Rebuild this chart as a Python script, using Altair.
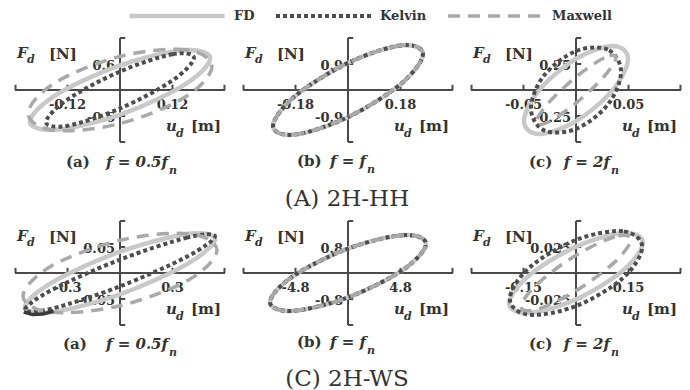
import altair as alt
import pandas as pd

MODELS = ["FD", "Kelvin", "Maxwell"]
LINE_COLORS = ["#c8c8c8", "#4d4d4d", "#a9a9a9"]
LINE_DASHES = [[1, 0], [4, 3], [12, 8]]
LINE_WIDTHS = [4.5, 3.5, 2.5]

# ---------------- (A) 2H-HH ----------------
HH_A_XTICK, HH_A_YTICK = 0.12, 0.6
HH_A_XLABELS = ["-0.12", "0.12"]
HH_A_YLABELS = ["0.6", "-0.6"]
HH_A_FD_U = [0.206, 0.146, 0.0, -0.146, -0.206, -0.146, 0.0, 0.146]
HH_A_FD_F = [0.727, 0.916, 0.568, -0.113, -0.727, -0.916, -0.568, 0.113]
HH_A_KV_U = [0.169, 0.120, 0.0, -0.120, -0.169, -0.120, 0.0, 0.120]
HH_A_KV_F = [0.740, 0.825, 0.427, -0.221, -0.740, -0.825, -0.427, 0.221]
HH_A_MX_U = [0.210, 0.149, 0.0, -0.149, -0.210, -0.149, 0.0, 0.149]
HH_A_MX_F = [0.543, 0.932, 0.775, 0.164, -0.543, -0.932, -0.775, -0.164]

HH_B_XTICK, HH_B_YTICK = 0.18, 0.9
HH_B_XLABELS = ["-0.18", "0.18"]
HH_B_YLABELS = ["0.9", "-0.9"]
HH_B_U = [0.257, 0.182, 0.0, -0.182, -0.257, -0.182, 0.0, 0.182]
HH_B_F = [1.244, 1.543, 0.938, -0.217, -1.244, -1.543, -0.938, 0.217]

HH_C_XTICK, HH_C_YTICK = 0.05, 0.25
HH_C_XLABELS = ["-0.05", "0.05"]
HH_C_YLABELS = ["0.25", "-0.25"]
HH_C_FD_U = [0.0495, 0.035, 0.0, -0.035, -0.0495, -0.035, 0.0, 0.035]
HH_C_FD_F = [0.299, 0.423, 0.299, 0.0, -0.299, -0.423, -0.299, 0.0]
HH_C_KV_U = [0.0429, 0.0303, 0.0, -0.0303, -0.0429, -0.0303, 0.0, 0.0303]
HH_C_KV_F = [0.175, 0.388, 0.374, 0.141, -0.175, -0.388, -0.374, -0.141]
HH_C_MX_U = [0.0381, 0.0269, 0.0, -0.0269, -0.0381, -0.0269, 0.0, 0.0269]
HH_C_MX_F = [0.312, 0.310, 0.126, -0.132, -0.312, -0.310, -0.126, 0.132]

# ---------------- (C) 2H-WS ----------------
WS_A_XTICK, WS_A_YTICK = 0.3, 0.05
WS_A_XLABELS = ["-0.3", "0.3"]
WS_A_YLABELS = ["0.05", "-0.05"]
WS_A_FD_U = [0.543, 0.384, 0.0, -0.384, -0.543, -0.384, 0.0, 0.384]
WS_A_FD_F = [0.0652, 0.0749, 0.0408, -0.0173, -0.0652, -0.0749, -0.0408, 0.0173]
WS_A_KV_U = [0.543, 0.384, 0.0, -0.384, -0.543, -0.384, 0.0, 0.384]
WS_A_KV_F = [0.0705, 0.0680, 0.0257, -0.0317, -0.0705, -0.0680, -0.0257, 0.0317]
WS_A_MX_U = [0.554, 0.392, 0.0, -0.392, -0.554, -0.392, 0.0, 0.392]
WS_A_MX_F = [0.0441, 0.0757, 0.0630, 0.0134, -0.0441, -0.0757, -0.0630, -0.0134]
WS_A_KV_TAIL_U = [-0.55, -0.50, -0.44, -0.38]
WS_A_KV_TAIL_F = [-0.075, -0.080, -0.079, -0.073]

WS_B_XTICK, WS_B_YTICK = 4.8, 0.8
WS_B_XLABELS = ["-4.8", "4.8"]
WS_B_YLABELS = ["0.8", "-0.8"]
WS_B_U = [7.13, 5.04, 0.0, -5.04, -7.13, -5.04, 0.0, 5.04]
WS_B_F = [0.896, 1.165, 0.751, -0.102, -0.896, -1.165, -0.751, 0.102]

WS_C_XTICK, WS_C_YTICK = 0.15, 0.025
WS_C_XLABELS = ["-0.15", "0.15"]
WS_C_YLABELS = ["0.025", "-0.025"]
WS_C_FD_U = [0.191, 0.135, 0.0, -0.135, -0.191, -0.135, 0.0, 0.135]
WS_C_FD_F = [0.0291, 0.0384, 0.0253, -0.0027, -0.0291, -0.0384, -0.0253, 0.0027]
WS_C_KV_U = [0.189, 0.134, 0.0, -0.134, -0.189, -0.134, 0.0, 0.134]
WS_C_KV_F = [0.0249, 0.0401, 0.0318, 0.0049, -0.0249, -0.0401, -0.0318, -0.0049]
WS_C_MX_U = [0.157, 0.111, 0.0, -0.111, -0.157, -0.111, 0.0, 0.111]
WS_C_MX_F = [0.0322, 0.0349, 0.0171, -0.0107, -0.0322, -0.0349, -0.0171, 0.0107]

CAPTIONS = [("(a)", "f = 0.5f", "n"), ("(b)", "f = f", "n"), ("(c)", "f = 2f", "n")]
TITLE_TOP = "(A) 2H-HH"
TITLE_BOTTOM = "(C) 2H-WS"

SERIF = "DejaVu Serif"
TXT = "#333333"
AXC = "#4a4a4a"
DUMMY = pd.DataFrame({"k": [0]})
PW, PH = 210, 104          # size of the axes frame inside each cell
TOP_CELL_H, BOT_CELL_H = 183, 169

LEG = alt.Legend(orient="none", legendX=112, legendY=0, direction="horizontal", title=None,
                 symbolType="stroke", symbolSize=9025, clipHeight=16,
                 labelFont=SERIF, labelFontWeight="bold", labelFontSize=13,
                 labelColor=TXT, labelOffset=7, columnPadding=19)


def txt(s, x, y, size=15, style="normal", weight="bold", align="left"):
    return alt.Chart(DUMMY).mark_text(
        text=s, font=SERIF, fontSize=size, fontStyle=style, fontWeight=weight,
        align=align, baseline="alphabetic", color=TXT
    ).encode(x=alt.value(x), y=alt.value(y))


def curves_df(curves):
    rows = []
    for model, us, fs in curves:
        for i, (u, f) in enumerate(zip(us, fs)):
            rows.append({"model": model, "u": u, "F": f, "i": i})
    return pd.DataFrame(rows)


def panel(curves, xt, yt, xlabels, ylabels, cell_h, caption, cap_x, cap_base,
          title=None, title_base=0, tail=None):
    extra = (cell_h - PH) / (PH / 4.0) * yt   # room below the frame for the caption
    xs = alt.Scale(domain=[-2 * xt, 2 * xt], nice=False, zero=False)
    ys = alt.Scale(domain=[-2 * yt - extra, 2 * yt], nice=False, zero=False)
    hx, hy, ex = 0.1 * xt, 0.2 * yt, 1.99 * xt
    segs = pd.DataFrame({
        "x": [-2 * xt, 0, 0, 0, 0, 0, -xt, xt, -ex, ex],
        "x2": [2 * xt, 0, hx, hx, hx, hx, -xt, xt, -ex, ex],
        "y": [0, -2 * yt, 2 * yt, -2 * yt, yt, -yt, 0, 0, 0, 0],
        "y2": [0, 2 * yt, 2 * yt, -2 * yt, yt, -yt, hy, hy, hy, hy],
    })
    axes = alt.Chart(segs).mark_rule(color=AXC, strokeWidth=2).encode(
        x=alt.X("x:Q", scale=xs, axis=None), x2="x2:Q",
        y=alt.Y("y:Q", scale=ys, axis=None), y2="y2:Q")
    xl = alt.Chart(pd.DataFrame({"x": [-xt, xt], "y": [0, 0], "t": xlabels})).mark_text(
        font=SERIF, fontSize=13, fontWeight="bold", color=TXT, align="center",
        baseline="middle", dy=15).encode(
        x=alt.X("x:Q", scale=xs, axis=None), y=alt.Y("y:Q", scale=ys, axis=None), text="t:N")
    yl = alt.Chart(pd.DataFrame({"x": [0, 0], "y": [yt, -yt], "t": ylabels})).mark_text(
        font=SERIF, fontSize=13, fontWeight="bold", color=TXT, align="right",
        baseline="middle", dx=-5, dy=2).encode(
        x=alt.X("x:Q", scale=xs, axis=None), y=alt.Y("y:Q", scale=ys, axis=None), text="t:N")
    lines = alt.Chart(curves_df(curves)).mark_line(interpolate="cardinal-closed").encode(
        x=alt.X("u:Q", scale=xs, axis=None),
        y=alt.Y("F:Q", scale=ys, axis=None),
        color=alt.Color("model:N", scale=alt.Scale(domain=MODELS, range=LINE_COLORS), legend=LEG),
        strokeDash=alt.StrokeDash("model:N", scale=alt.Scale(domain=MODELS, range=LINE_DASHES), legend=LEG),
        strokeWidth=alt.StrokeWidth("model:N", scale=alt.Scale(domain=MODELS, range=LINE_WIDTHS), legend=LEG),
        order="i:Q",
    )
    layers = [axes, xl, yl, lines]
    if tail is not None:
        tdf = pd.DataFrame({"u": tail[0], "F": tail[1], "i": list(range(len(tail[0])))})
        layers.append(alt.Chart(tdf).mark_line(color="#3a3a3a", strokeWidth=3.5).encode(
            x=alt.X("u:Q", scale=xs, axis=None), y=alt.Y("F:Q", scale=ys, axis=None), order="i:Q"))
    lab, main, sub = caption
    layers += [
        txt("F", 2, 20, 15, "italic"),
        txt("d", 12, 25, 11, "italic"),
        txt("[N]", 34, 21, 15),
        txt("u", 151, 93, 15, "italic"),
        txt("d", 161, 99, 11, "italic"),
        txt("[m]", 176, 93, 15),
        txt(lab, cap_x[0], cap_base, 15),
        txt(main, cap_x[1], cap_base, 15, "italic", align="right"),
        txt(sub, cap_x[1] + 1, cap_base + 7, 11, "italic"),
    ]
    if title is not None:
        layers.append(txt(title, 104, title_base, 23, weight="normal", align="center"))
    return alt.layer(*layers).properties(width=PW, height=cell_h)


spacers = [alt.Chart(DUMMY).mark_point(opacity=0).encode(
    x=alt.value(100), y=alt.value(15)).properties(width=PW, height=30) for _ in range(3)]

p_hh = [
    panel([("FD", HH_A_FD_U, HH_A_FD_F), ("Kelvin", HH_A_KV_U, HH_A_KV_F), ("Maxwell", HH_A_MX_U, HH_A_MX_F)],
          HH_A_XTICK, HH_A_YTICK, HH_A_XLABELS, HH_A_YLABELS, TOP_CELL_H, CAPTIONS[0], (51, 153), 129),
    panel([("FD", HH_B_U, HH_B_F), ("Kelvin", HH_B_U, HH_B_F), ("Maxwell", HH_B_U, HH_B_F)],
          HH_B_XTICK, HH_B_YTICK, HH_B_XLABELS, HH_B_YLABELS, TOP_CELL_H, CAPTIONS[1], (54, 123), 128,
          title=TITLE_TOP, title_base=168),
    panel([("FD", HH_C_FD_U, HH_C_FD_F), ("Kelvin", HH_C_KV_U, HH_C_KV_F), ("Maxwell", HH_C_MX_U, HH_C_MX_F)],
          HH_C_XTICK, HH_C_YTICK, HH_C_XLABELS, HH_C_YLABELS, TOP_CELL_H, CAPTIONS[2], (58, 139), 129),
]
p_ws = [
    panel([("FD", WS_A_FD_U, WS_A_FD_F), ("Kelvin", WS_A_KV_U, WS_A_KV_F), ("Maxwell", WS_A_MX_U, WS_A_MX_F)],
          WS_A_XTICK, WS_A_YTICK, WS_A_XLABELS, WS_A_YLABELS, BOT_CELL_H, CAPTIONS[0], (48, 153), 128,
          tail=(WS_A_KV_TAIL_U, WS_A_KV_TAIL_F)),
    panel([("FD", WS_B_U, WS_B_F), ("Kelvin", WS_B_U, WS_B_F), ("Maxwell", WS_B_U, WS_B_F)],
          WS_B_XTICK, WS_B_YTICK, WS_B_XLABELS, WS_B_YLABELS, BOT_CELL_H, CAPTIONS[1], (54, 123), 126,
          title=TITLE_BOTTOM, title_base=165),
    panel([("FD", WS_C_FD_U, WS_C_FD_F), ("Kelvin", WS_C_KV_U, WS_C_KV_F), ("Maxwell", WS_C_MX_U, WS_C_MX_F)],
          WS_C_XTICK, WS_C_YTICK, WS_C_XLABELS, WS_C_YLABELS, BOT_CELL_H, CAPTIONS[2], (58, 139), 128),
]

chart = alt.concat(*spacers, *p_hh, *p_ws, columns=3, spacing={"row": 0, "column": 18},
                   bounds="flush", align="each").properties(
    padding={"left": 6, "top": 0, "right": 0, "bottom": 0}
).configure_view(stroke=None)

chart.save("out.html", embed_options={"renderer": "svg", "actions": False})
